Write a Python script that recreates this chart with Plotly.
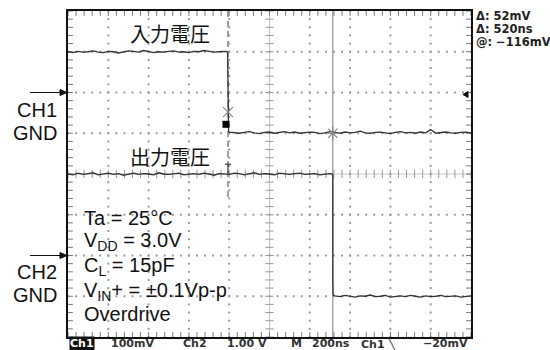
import plotly.graph_objects as go

# ---------------- data ----------------
# time axis in ns (200 ns/div, 10 div), CH1 in mV (100 mV/div), CH2 in V (1 V/div)
T_IN_HIGH = list(range(0, 800, 25))
V_IN_HIGH = [100, 98, 101, 99, 100, 102, 99, 98, 101, 100,
             97, 100, 102, 101, 99, 103, 101, 98, 100, 99,
             101, 102, 99, 100, 98, 101, 100, 103, 101, 99,
             100, 101]
T_IN_EDGE = [785, 792, 794, 797]
V_IN_EDGE = [101, 99, -80, -96]
T_IN_LOW = list(range(800, 2001, 25))
V_IN_LOW = [-97, -99, -100, -98, -96, -99, -101, -98, -97, -100,
            -98, -96, -99, -97, -100, -99, -97, -98, -101, -99,
            -96, -98, -100, -97, -99, -98, -95, -99, -100, -98,
            -97, -99, -101, -98, -96, -99, -98, -100, -97, -99,
            -91, -100, -98, -97, -99, -100, -98, -97, -99]

T_OUT_HIGH = list(range(0, 1301, 25))
V_OUT_HIGH = [2.00, 1.98, 2.02, 1.99, 2.01, 2.03, 1.98, 2.00, 2.02, 1.99,
              2.01, 1.97, 2.00, 2.02, 1.99, 2.01, 2.00, 1.98, 2.03, 2.00,
              1.99, 2.01, 2.02, 1.98, 2.00, 2.01, 1.99, 2.02, 2.00, 1.97,
              2.01, 2.00, 1.99, 2.02, 2.01, 1.98, 2.00, 2.03, 1.99, 2.01,
              2.00, 1.98, 2.02, 2.00, 1.99, 2.01, 2.02, 1.99, 2.00, 2.01,
              1.98, 2.00, 2.01]
T_OUT_EDGE = [1312, 1314, 1314, 1316]
V_OUT_EDGE = [2.00, 1.95, -0.60, -0.97]
T_OUT_LOW = list(range(1325, 2001, 25))
V_OUT_LOW = [-0.99, -1.01, -0.98, -1.00, -1.02, -0.99, -1.00, -0.97, -1.01, -1.00,
             -0.98, -1.02, -1.00, -0.99, -1.01, -0.98, -1.00, -1.02, -0.99, -1.01,
             -1.00, -0.98, -1.01, -1.00, -0.99, -1.02, -1.00, -0.99]

# cursors / markers
CURSOR1_T = 794      # ns
CURSOR2_T = 1314     # ns
CURSOR1_MV = -48
CURSOR2_MV = -100
SQUARE_T, SQUARE_MV = 784, -78
IBEAM_V = (1.98, 2.24)

READOUT = ["Δ: 52mV", "Δ: 520ns", "@: −116mV"]
BOTTOM_LABELS = ["100mV", "Ch2", "1.00 V", "M", "200ns", "Ch1 \u2572", "−20mV"]
CONDITIONS = ["Ta = 25°C", "V<sub>DD</sub> = 3.0V", "C<sub>L</sub> = 15pF",
              "V<sub>IN</sub>+ = ±0.1Vp-p", "Overdrive"]

# ---------------- layout geometry ----------------
W, H = 550, 350
L, R, T, B = 68, 471, 9, 337
X_RANGE = [0, 2000]
CH1_RANGE = [-600, 200]
CH2_RANGE = [-2, 6]


def px(x):
    return (x - L) / (R - L)


def py(y):
    return (B - y) / (B - T)


fig = go.Figure()

# grid dots
gx, gy = [], []
for xm in range(200, 2000, 200):
    if xm == 1000:
        continue
    for ym in range(-600, 201, 20):
        gx.append(xm); gy.append(ym)
for ym in range(-500, 200, 100):
    if ym == -200:
        continue
    for xm in range(0, 2001, 40):
        gx.append(xm); gy.append(ym)
fig.add_trace(go.Scatter(x=gx, y=gy, mode="markers", hoverinfo="skip",
                         marker=dict(symbol="square", size=2, color="#9a9a9a", line=dict(width=0))))

# center-line ticks and edge ticks
cy = list(range(-600, 201, 20))
cx = [1000] * len(cy)
fig.add_trace(go.Scatter(x=cx, y=cy, mode="markers", hoverinfo="skip",
                         marker=dict(symbol="line-ew", size=6, color="#999", line=dict(color="#999", width=1))))
hx = list(range(0, 2001, 40))
fig.add_trace(go.Scatter(x=hx, y=[-200] * len(hx), mode="markers", hoverinfo="skip",
                         marker=dict(symbol="line-ns", size=6, color="#999", line=dict(color="#999", width=1))))
fig.add_trace(go.Scatter(x=hx + hx, y=[200] * len(hx) + [-600] * len(hx), mode="markers",
                         hoverinfo="skip",
                         marker=dict(symbol="line-ns", size=7, color="#777", line=dict(color="#777", width=1))))
fig.add_trace(go.Scatter(x=[0] * len(cy) + [2000] * len(cy), y=cy + cy, mode="markers",
                         hoverinfo="skip",
                         marker=dict(symbol="line-ew", size=7, color="#777", line=dict(color="#777", width=1))))

# traces
fig.add_trace(go.Scatter(x=T_IN_HIGH + T_IN_EDGE + T_IN_LOW,
                         y=V_IN_HIGH + V_IN_EDGE + V_IN_LOW,
                         mode="lines", line=dict(color="#333", width=1.3), yaxis="y"))
fig.add_trace(go.Scatter(x=T_OUT_HIGH + T_OUT_EDGE + T_OUT_LOW,
                         y=V_OUT_HIGH + V_OUT_EDGE + V_OUT_LOW,
                         mode="lines", line=dict(color="#333", width=1.3), yaxis="y2"))

# cursor markers
fig.add_trace(go.Scatter(x=[CURSOR1_T], y=[CURSOR1_MV], mode="markers",
                         marker=dict(symbol="x-thin-open", size=10, color="#888",
                                     line=dict(color="#888", width=1.2))))
fig.add_trace(go.Scatter(x=[CURSOR2_T], y=[CURSOR2_MV], mode="markers",
                         marker=dict(symbol="asterisk-open", size=11, color="#888",
                                     line=dict(color="#888", width=1.2))))
fig.add_trace(go.Scatter(x=[SQUARE_T], y=[SQUARE_MV], mode="markers",
                         marker=dict(symbol="square", size=7, color="black")))


def gnd_arrow(yref, yval, unit_per_px):
    """ground pointer: line + small arrow head, drawn as shapes left of the frame"""
    h = 3 * unit_per_px
    return [
        dict(type="line", xref="paper", yref=yref, x0=px(30), x1=px(62), y0=yval, y1=yval,
             line=dict(color="#111", width=1)),
        dict(type="path", xref="paper", yref=yref, fillcolor="#111", line=dict(color="#111", width=1),
             path=f"M {px(60)} {yval + h} L {px(67)} {yval} L {px(60)} {yval - h} Z"),
    ]


shapes = [
    dict(type="line", xref="x", yref="y", x0=1000, x1=1000, y0=CH1_RANGE[0], y1=CH1_RANGE[1],
         line=dict(color="#c4c4c4", width=1), layer="below"),
    dict(type="line", xref="x", yref="y", x0=X_RANGE[0], x1=X_RANGE[1], y0=-200, y1=-200,
         line=dict(color="#c4c4c4", width=1), layer="below"),
    dict(type="line", xref="x", yref="y", x0=CURSOR1_T, x1=CURSOR1_T, y0=CH1_RANGE[1], y1=-261,
         line=dict(color="#777", width=1.4, dash="6px,4px"), layer="below"),
    dict(type="line", xref="x", yref="y", x0=CURSOR2_T, x1=CURSOR2_T, y0=CH1_RANGE[1], y1=CH1_RANGE[0],
         line=dict(color="#9a9a9a", width=1.3), layer="below"),
    dict(type="line", xref="x", yref="y2", x0=CURSOR1_T, x1=CURSOR1_T, y0=IBEAM_V[0], y1=IBEAM_V[1],
         line=dict(color="#444", width=1.3)),
    dict(type="line", xref="x", yref="y2", x0=CURSOR1_T - 15, x1=CURSOR1_T + 15,
         y0=IBEAM_V[1], y1=IBEAM_V[1], line=dict(color="#444", width=1.3)),
]
mv_per_px = (CH1_RANGE[1] - CH1_RANGE[0]) / (B - T)
v_per_px = (CH2_RANGE[1] - CH2_RANGE[0]) / (B - T)
shapes += gnd_arrow("y", 0, mv_per_px)
shapes += gnd_arrow("y2", 0, v_per_px)
# trigger-level pointer (small left-pointing triangle at right edge)
shapes.append(dict(type="path", xref="paper", yref="paper", fillcolor="#111",
                   line=dict(color="#111", width=1),
                   path=f"M {px(463)} {py(93)} L {px(468)} {py(90)} L {px(468)} {py(96)} Z"))

ann = []
jp = dict(family="Noto Sans CJK JP", size=20, color="#111")
ann.append(dict(text="入力電圧", x=px(170), y=py(32), xref="paper", yref="paper",
                showarrow=False, font=jp, xanchor="center", yanchor="middle"))
ann.append(dict(text="出力電圧", x=px(170), y=py(155), xref="paper", yref="paper",
                showarrow=False, font=jp, xanchor="center", yanchor="middle"))

side = dict(family="Liberation Sans, Arial", size=20, color="#111")
for txt, yy in [("CH1", 109), ("GND", 132), ("CH2", 272), ("GND", 295)]:
    ann.append(dict(text=txt, x=px(59), y=py(yy), xref="paper", yref="paper",
                    showarrow=False, font=side, xanchor="right", yanchor="middle"))

for txt, yy in zip(CONDITIONS, [217, 241, 266, 291, 314]):
    ann.append(dict(text=txt, x=px(82), y=py(yy), xref="paper", yref="paper",
                    showarrow=False, font=side, xanchor="left", yanchor="middle"))

mono = dict(family="DejaVu Sans", size=11.5, color="#222")
for txt, yy in zip(READOUT, [14, 27, 40]):
    ann.append(dict(text="<b>" + txt + "</b>", x=px(474), y=py(yy), xref="paper", yref="paper",
                    showarrow=False, font=mono, xanchor="left", yanchor="middle"))

bot = dict(family="DejaVu Sans", size=11, color="#333")
ann.append(dict(text="<b>Ch1</b>", x=px(82), y=py(344), xref="paper", yref="paper",
                showarrow=False, font=dict(family="DejaVu Sans", size=11, color="white"),
                bgcolor="#111", borderpad=0, xanchor="center", yanchor="middle"))
for txt, xc in zip(BOTTOM_LABELS, [132, 195, 247, 296, 331, 378, 445]):
    ann.append(dict(text="<b>" + txt + "</b>", x=px(xc), y=py(344), xref="paper", yref="paper",
                    showarrow=False, font=bot, xanchor="center", yanchor="middle"))

axis_common = dict(showgrid=False, zeroline=False, showticklabels=False, ticks="",
                   showline=True, mirror=True, linecolor="#111", linewidth=2)

fig.update_layout(
    width=W, height=H, autosize=False,
    margin=dict(l=L, r=W - R, t=T, b=H - B, pad=0),
    paper_bgcolor="white", plot_bgcolor="white",
    showlegend=False,
    xaxis=dict(range=X_RANGE, **axis_common),
    yaxis=dict(range=CH1_RANGE, **axis_common),
    yaxis2=dict(range=CH2_RANGE, overlaying="y", visible=False),
    shapes=shapes,
    annotations=ann,
)

fig.write_html("out.html", config={"displayModeBar": False},
               post_script="document.body.style.margin='0';")
